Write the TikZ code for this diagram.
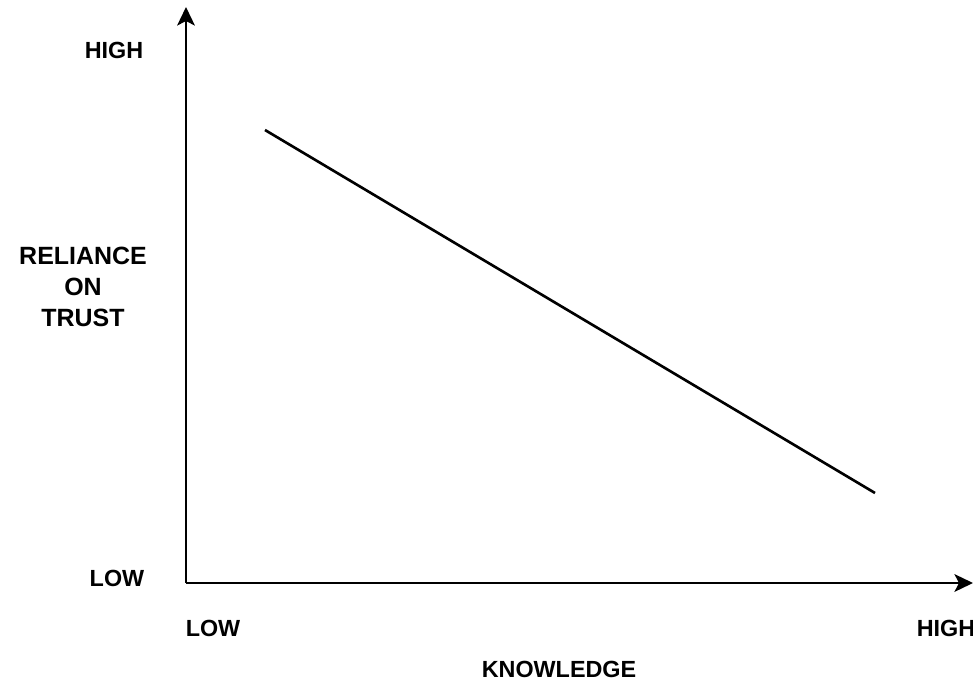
\documentclass[tikz,border=0pt]{standalone}
\usepackage{fontspec}
\setmainfont{Liberation Sans}
\usetikzlibrary{arrows.meta}

\tikzset{
  axis/.style={line width=1.5pt, -{Stealth[length=10.5pt,width=10pt,inset=2.5pt]}},
  trend/.style={line width=1.5pt},
  lbl/.style={font=\bfseries\fontsize{13.3}{17}\selectfont, align=center, inner sep=0pt}
}

\begin{document}
\begin{tikzpicture}[x=0.02cm,y=0.02cm]
      \useasboundingbox (0,0) rectangle (973,684);

      % AXES
      \coordinate (origin) at (186,101);
      \coordinate (ytip)   at (186,677);
      \coordinate (xtip)   at (973,101);
      \draw[axis] (origin) -- (ytip);
      \draw[axis] (origin) -- (xtip);

      % TREND LINE
      \coordinate (start) at (265,554);
      \coordinate (end)   at (875,191);
      \draw[trend] (start) -- (end);

      % LABELS y
      \node[lbl] (yhigh) at (114,634) {HIGH};
      \node[lbl] (ylow)  at (117,106) {LOW};
      \node[lbl, font=\bfseries\fontsize{14.2}{17.5}\selectfont] (ytitle) at (83,397) {RELIANCE\\ON\\TRUST};

      % LABELS x
      \node[lbl] (xlow)  at (213,56) {LOW};
      \node[lbl] (xhigh) at (946,56) {HIGH};
      \node[lbl] (xtitle) at (559,15) {KNOWLEDGE};
\end{tikzpicture}
\end{document}
